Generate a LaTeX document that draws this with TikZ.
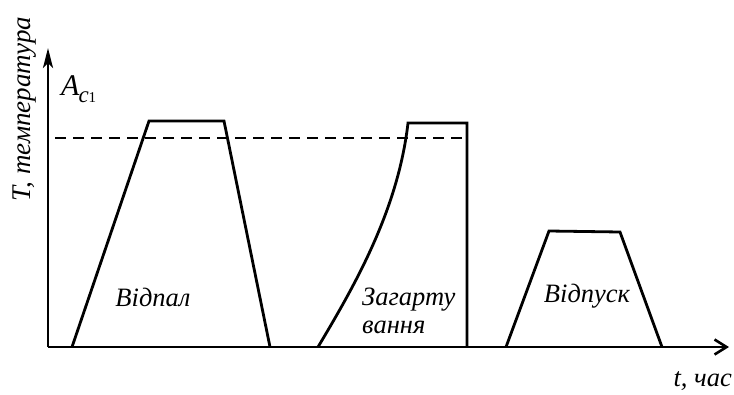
\documentclass[tikz,border=0pt]{standalone}
\usepackage{fontspec}
\setmainfont{Liberation Serif}
\usetikzlibrary{arrows.meta}
\begin{document}
\begin{tikzpicture}[x=1pt,y=-1pt,
  curve/.style={line width=2.8pt, line join=miter},
  axis/.style={line width=2.8pt},
  lbl/.style={font=\fontsize{26.5}{28}\selectfont\itshape, inner sep=0pt},
]
\useasboundingbox (0,0) rectangle (734,394);
% axes
\coordinate (O) at (48,347);
\coordinate (Ytip) at (48,48);
\coordinate (Xtip) at (729,347);
\draw[axis,-{Stealth[length=20pt,width=10pt,inset=5pt]}] (O) -- (Ytip);
\draw[axis,-{Straight Barb[length=12pt,width=15pt,line width=2.6pt]}] (O) -- (Xtip);
% dashed Ac1 level
\coordinate (D1) at (55,138);
\coordinate (D2) at (468,138);
\draw[line width=2.4pt, dash pattern=on 11pt off 7pt] (D1) -- (D2);
% annealing
\coordinate (a1) at (72,347);
\coordinate (a2) at (149,121);
\coordinate (a3) at (224,121);
\coordinate (a4) at (270,347);
\draw[curve] (a1) -- (a2) -- (a3) -- (a4);
% hardening
\coordinate (h1) at (318,347);
\coordinate (h2) at (408,123);
\coordinate (h3) at (467,123);
\coordinate (h4) at (467,347);
\draw[curve] (h1) .. controls (355,285) and (398,210) .. (h2) -- (h3) -- (h4);
% tempering
\coordinate (t1) at (506,347);
\coordinate (t2) at (549,231);
\coordinate (t3) at (620,232);
\coordinate (t4) at (662,347);
\draw[curve] (t1) -- (t2) -- (t3) -- (t4);
% labels
\node[lbl] (l1) at (153,297) {Відпал};
\node[lbl, anchor=base west] (l2a) at (362,305) {Загарту};
\node[lbl, anchor=base west] (l2b) at (362,333) {вання};
\node[lbl] (l3) at (587,296) {Відпуск};
\node[lbl, font=\fontsize{27}{29}\selectfont\itshape, rotate=90] (ylab) at (25,109) {T, температура};
\node[lbl, anchor=base west, font=\fontsize{30}{32}\selectfont\itshape] (ac) at (61,95) {A\kern-1pt\raisebox{-7pt}{\fontsize{23}{24}\selectfont c}\raisebox{-7pt}{\fontsize{15}{16}\selectfont\upshape 1}};
\node[lbl, anchor=base east] (xlab) at (732,386) {t, час};
\end{tikzpicture}
\end{document}
